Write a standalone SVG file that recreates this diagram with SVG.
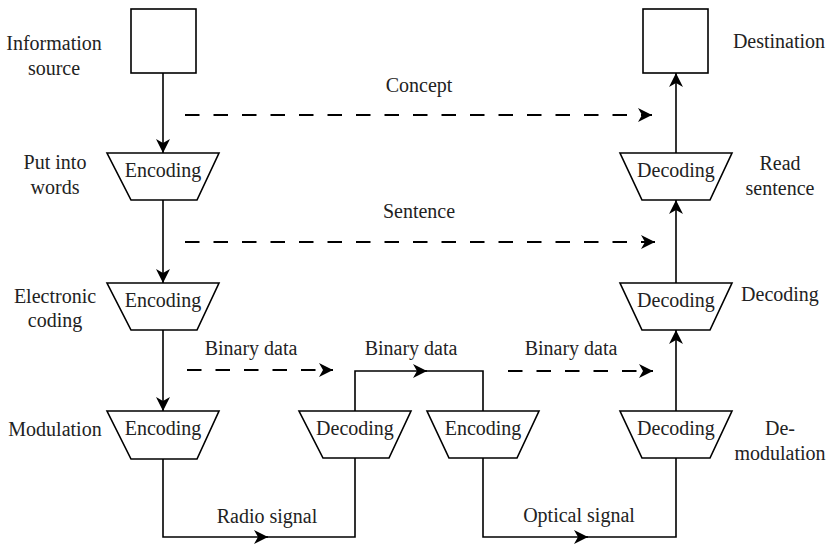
<svg xmlns="http://www.w3.org/2000/svg" width="830" height="544" viewBox="0 0 830 544">
<defs>
<marker id="ah" markerUnits="userSpaceOnUse" markerWidth="16" markerHeight="16" refX="14" refY="7" orient="auto" viewBox="0 0 16 14">
<path d="M14,7 L0,0 L4,7 L0,14 Z" fill="#000"/>
</marker>
<style>
text{font-size:20px;fill:#222;text-anchor:middle}
.box,.trap{fill:#fff;stroke:#000;stroke-width:1.6}
.ln{fill:none;stroke:#000;stroke-width:1.6}
.arr{fill:none;stroke:#000;stroke-width:1.6;marker-end:url(#ah)}
.dash{fill:none;stroke:#000;stroke-width:1.8;stroke-dasharray:14.5 14;marker-end:url(#ah)}
</style>
</defs>
<rect width="830" height="544" fill="#fff"/>
<g id="connectors">
<path class="arr" d="M163,73 V153"/>
<path class="arr" d="M163,200 V283"/>
<path class="arr" d="M163,330 V411"/>
<path class="arr" d="M163,459 V537 H268"/>
<path class="ln" d="M266,537 H355 V458"/>
<path class="arr" d="M355,411 V371 H427"/>
<path class="ln" d="M425,371 H483 V411"/>
<path class="arr" d="M483,458 V537 H588"/>
<path class="ln" d="M586,537 H676 V458"/>
<path class="arr" d="M676,411 V330"/>
<path class="arr" d="M676,283 V200"/>
<path class="arr" d="M676,153 V73"/>
<path class="dash" d="M185,115 H652"/>
<path class="dash" d="M185,242 H655"/>
<path class="dash" d="M187,370 H333"/>
<path class="dash" d="M508,371 H653"/>
</g>
<g font-family="Liberation Serif, serif">
<g id="source"><rect class="box" x="131" y="9" width="65" height="64"/><text x="54" y="50">Information</text><text x="54" y="75">source</text></g>
<g id="destination"><rect class="box" x="643" y="9" width="65" height="64"/><text x="779" y="48">Destination</text></g>
<g id="enc1"><path class="trap" d="M107,153 H219 L197,200 H131 Z"/><text x="163" y="177">Encoding</text><text x="55" y="169">Put into</text><text x="55" y="194">words</text></g>
<g id="enc2"><path class="trap" d="M107,283 H219 L197,330 H131 Z"/><text x="163" y="307">Encoding</text><text x="55" y="303">Electronic</text><text x="55" y="327">coding</text></g>
<g id="enc3"><path class="trap" d="M107,411 H219 L197,459 H131 Z"/><text x="163" y="435">Encoding</text><text x="55" y="436">Modulation</text></g>
<g id="dec-mid"><path class="trap" d="M299,411 H411 L389,458 H323 Z"/><text x="355" y="435">Decoding</text></g>
<g id="enc-mid"><path class="trap" d="M427,411 H539 L517,458 H449 Z"/><text x="483" y="435">Encoding</text></g>
<g id="dec3"><path class="trap" d="M620,411 H732 L710,458 H642 Z"/><text x="676" y="435">Decoding</text><text x="780" y="435">De-</text><text x="780" y="460">modulation</text></g>
<g id="dec2"><path class="trap" d="M620,283 H732 L710,330 H642 Z"/><text x="676" y="307">Decoding</text><text x="780" y="301">Decoding</text></g>
<g id="dec1"><path class="trap" d="M620,153 H732 L710,200 H642 Z"/><text x="676" y="177">Decoding</text><text x="780" y="170">Read</text><text x="780" y="195">sentence</text></g>
<g id="labels">
<text x="419" y="92">Concept</text>
<text x="419" y="218">Sentence</text>
<text x="251" y="355">Binary data</text>
<text x="411" y="355">Binary data</text>
<text x="571" y="355">Binary data</text>
<text x="267" y="523">Radio signal</text>
<text x="579" y="522">Optical signal</text>
</g>
</g>
</svg>
